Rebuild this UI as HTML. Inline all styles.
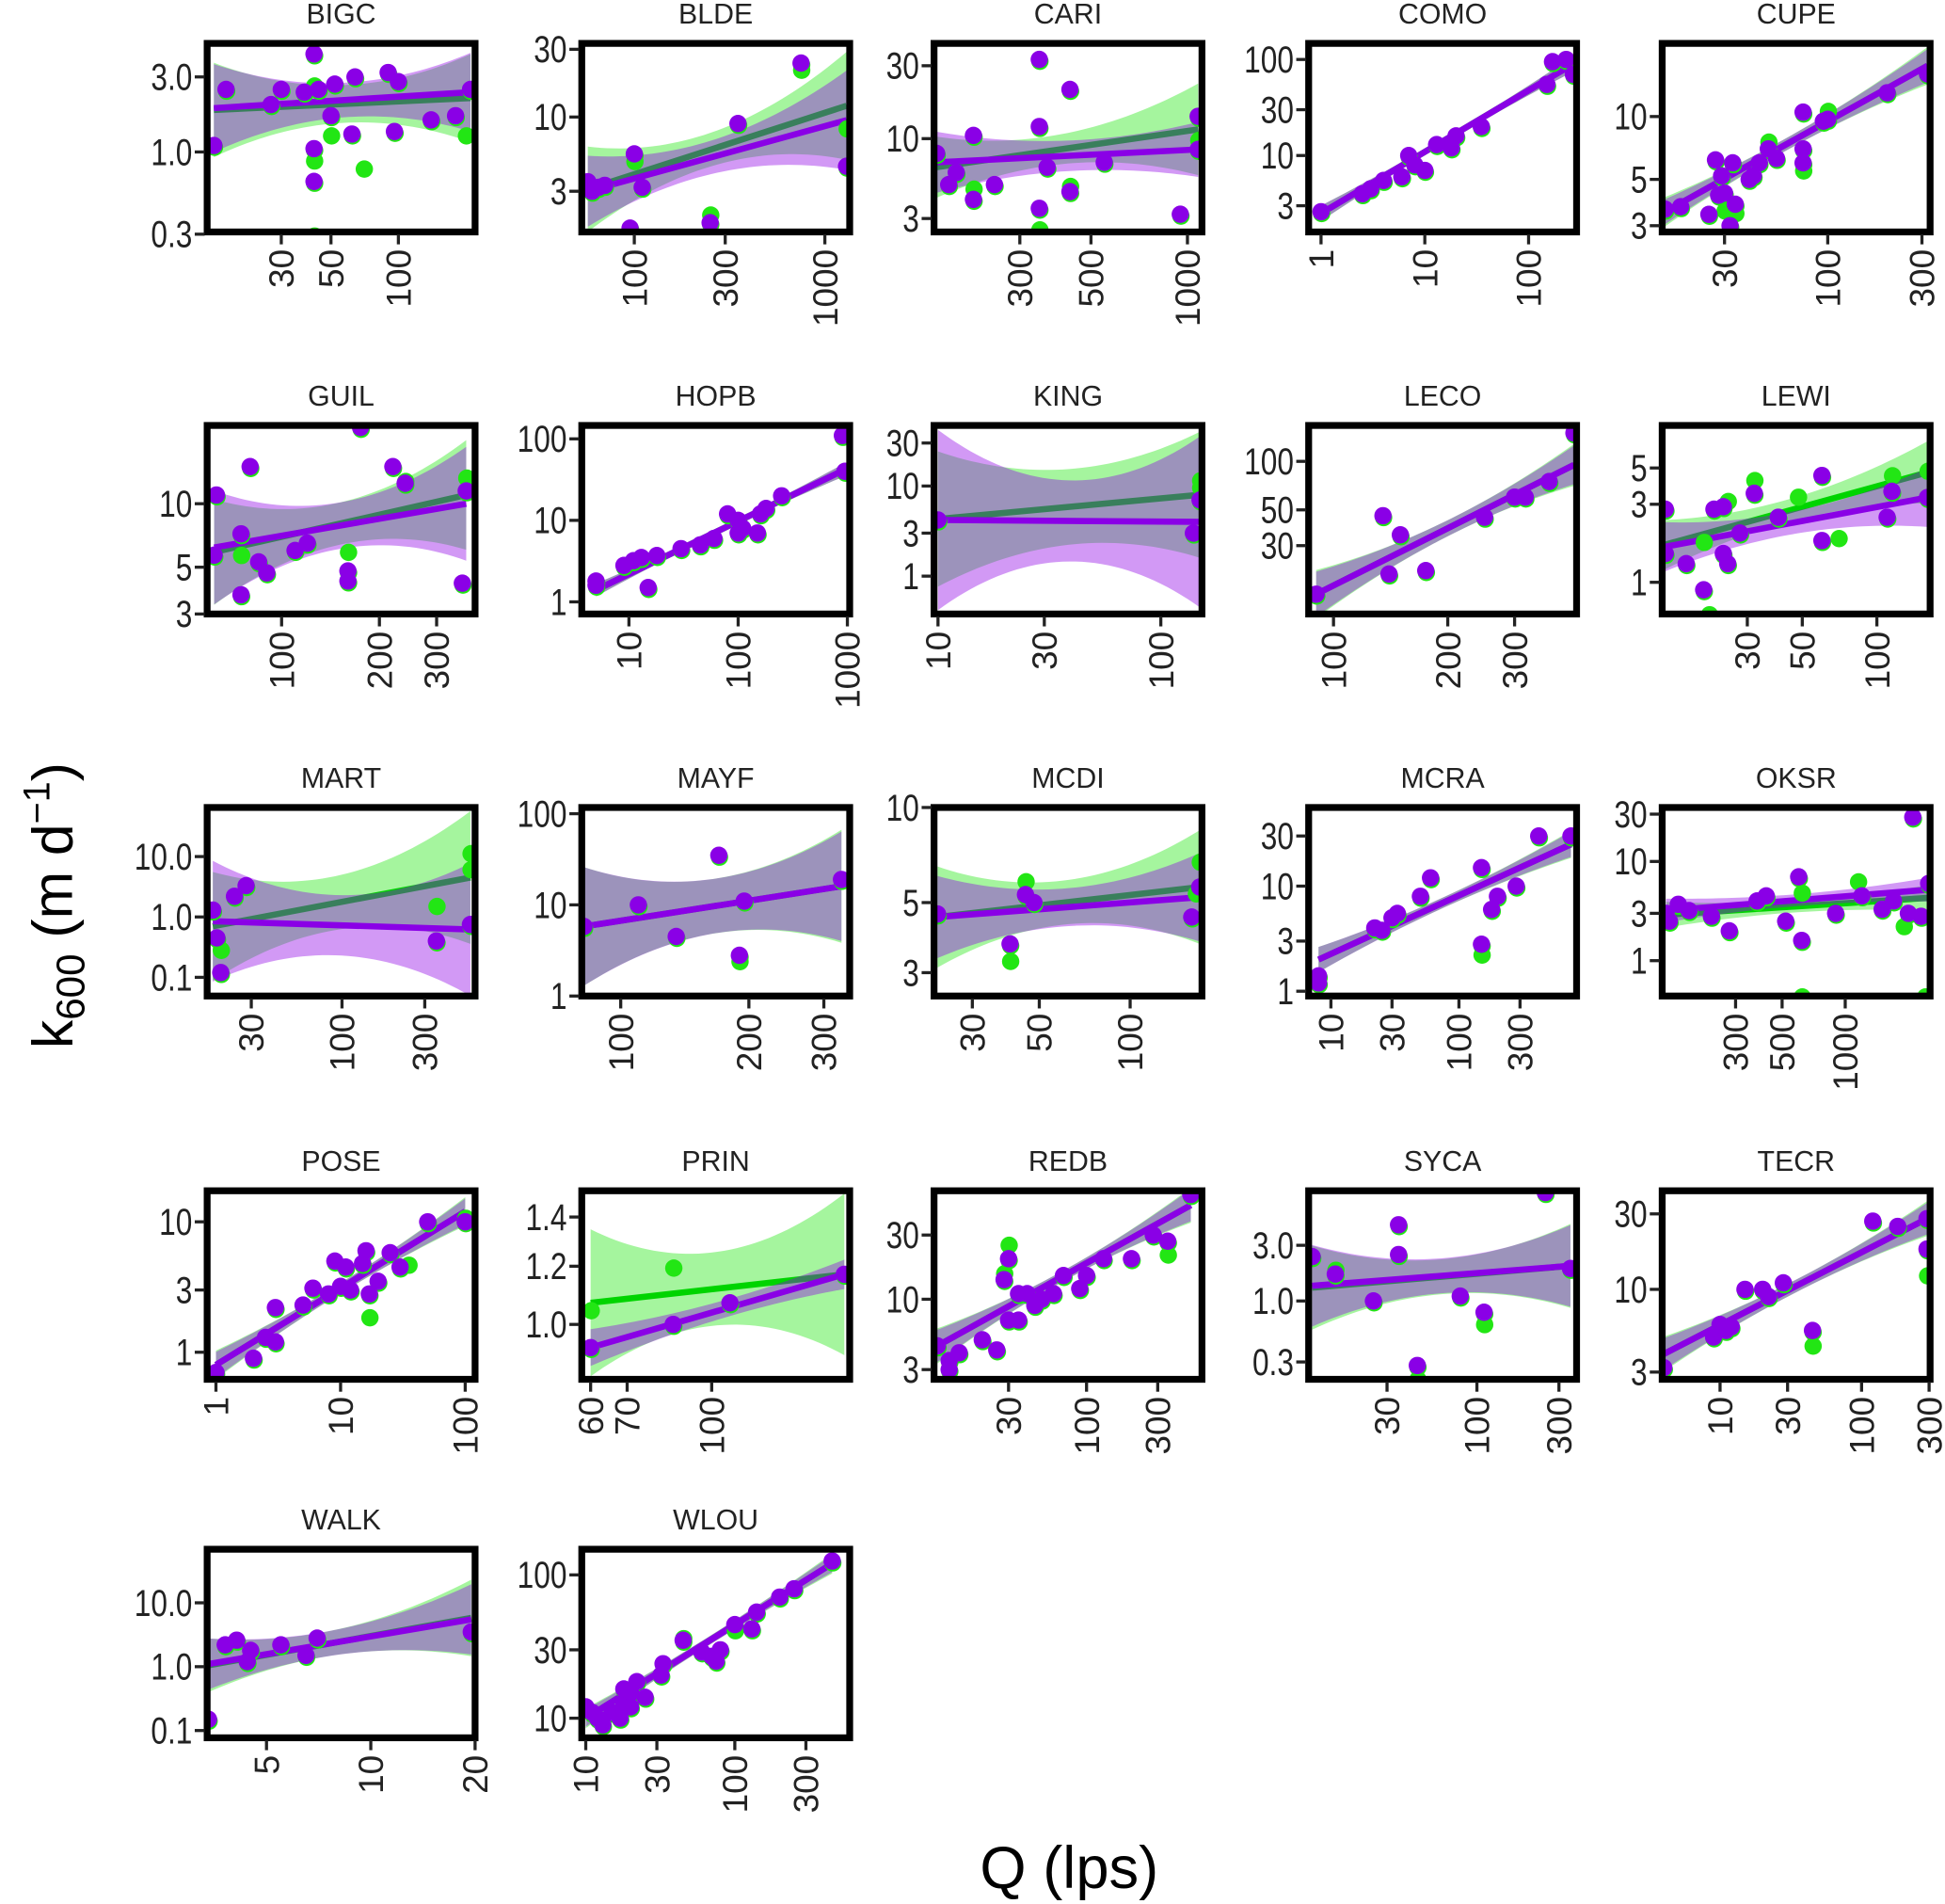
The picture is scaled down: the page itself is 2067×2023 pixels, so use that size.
<!DOCTYPE html>
<html><head><meta charset="utf-8">
<style>
html,body{margin:0;padding:0;background:#fff;}
svg{display:block;}
text{font-family:"Liberation Sans",Arial,sans-serif;fill:#222;}
</style></head>
<body>
<svg id="chart" width="2067" height="2023" viewBox="0 0 1568 1535" preserveAspectRatio="none" xmlns="http://www.w3.org/2000/svg">
<text transform="translate(58,730) rotate(-90)" text-anchor="middle" font-size="46" style="fill:#000">k<tspan font-size="32" dy="10">600</tspan><tspan dy="-10"> (m d</tspan><tspan font-size="30" dy="-18">−1</tspan><tspan dy="18">)</tspan></text>
<text x="862" y="1522" text-anchor="middle" font-size="48" style="fill:#000">Q (lps)</text>
<g id="panels"></g>
</svg>
<script>
const panelNames=["BIGC","BLDE","CARI","COMO","CUPE","GUIL","HOPB","KING","LECO","LEWI","MART","MAYF","MCDI","MCRA","OKSR","POSE","PRIN","REDB","SYCA","TECR","WALK","WLOU"];
const xDomains=[[14,220],[53,1350],[162,1110],[0.76,290],[14.5,330],[59,394],[3.7,1050],[9.6,153],[86,437],[13.6,164],[16.7,585],[81,345],[22.4,173],[6.7,830],[134,2540],[0.85,120],[57.8,179],[9.5,594],[10.5,380],[3.9,305],[3.37,20],[9.4,590]];
const yDomains=[[0.31,4.9],[1.55,33],[2.45,42],[1.6,147],[2.8,22.4],[3,23.5],[0.71,146],[0.38,47],[11.3,167],[0.64,9.1],[0.049,65],[1,117],[2.53,10],[0.9,56],[0.44,35],[0.62,17.3],[0.842,1.52],[2.54,64],[0.213,8.8],[2.7,42],[0.077,69],[7.3,151]];
const xTicks=[[30,50,100],[100,300,1000],[300,500,1000],[1,10,100],[30,100,300],[100,200,300],[10,100,1000],[10,30,100],[100,200,300],[30,50,100],[30,100,300],[100,200,300],[30,50,100],[10,30,100,300],[300,500,1000],[1,10,100],[60,70,100],[30,100,300],[30,100,300],[10,30,100,300],[5,10,20],[10,30,100,300]];
const yTicks=[[0.3,1,3],[3,10,30],[3,10,30],[3,10,30,100],[3,5,10],[3,5,10],[1,10,100],[1,3,10,30],[30,50,100],[1,3,5],[0.1,1,10],[1,10,100],[3,5,10],[1,3,10,30],[1,3,10,30],[1,3,10],[1.0,1.2,1.4],[3,10,30],[0.3,1,3],[3,10,30],[0.1,1,10],[10,30,100]];
const yTickLabels=[["0.3","1.0","3.0"],["3","10","30"],["3","10","30"],["3","10","30","100"],["3","5","10"],["3","5","10"],["1","10","100"],["1","3","10","30"],["30","50","100"],["1","3","5"],["0.1","1.0","10.0"],["1","10","100"],["3","5","10"],["1","3","10","30"],["1","3","10","30"],["1","3","10"],["1.0","1.2","1.4"],["3","10","30"],["0.3","1.0","3.0"],["3","10","30"],["0.1","1.0","10.0"],["10","30","100"]];
const purplePoints=[
[[15,1.1],[17,2.5],[27,2.0],[30,2.5],[38,2.4],[42,4.2],[42,1.05],[42,0.65],[44,2.5],[50,1.7],[52,2.7],[62,1.3],[64,3.0],[90,3.2],[96,1.35],[100,2.8],[140,1.6],[180,1.7],[210,2.5]],
[[57,3.5],[60,3.0],[65,3.2],[70,3.3],[95,1.65],[100,5.5],[110,3.2],[250,1.8],[350,9],[750,24],[1300,4.5]],
[[165,8],[180,5],[190,6],[215,10.5],[215,4],[250,5],[345,33],[345,12],[345,3.5],[365,6.5],[430,4.5],[430,21],[550,7],[950,3.2],[1080,14],[1080,8.5]],
[[1,2.6],[2.5,4],[3,4.5],[4,5.5],[6,6],[7,10],[8,8],[10,7],[13,13],[18,12],[20,16],[35,20],[150,55],[170,95],[230,100],[270,70]],
[[15,3.6],[18,3.7],[25,3.4],[27,6.2],[28,4.2],[29,5.2],[30,4.3],[32,3.0],[33,6],[34,3.8],[40,5],[42,5.2],[45,6],[50,7],[55,6.3],[75,10.5],[75,7],[75,6],[95,9.5],[100,9.7],[200,13],[320,16]],
[[62,5.7],[63,11],[75,7.2],[75,3.7],[80,15],[85,5.3],[90,4.7],[110,6],[120,6.5],[160,4.3],[160,4.8],[175,23],[220,15],[240,12.5],[360,4.2],[370,11.5]],
[[5,1.6],[5,1.8],[9,2.8],[11,3.2],[13,3.5],[15,1.5],[18,3.7],[30,4.5],[45,5],[60,6],[80,12],[100,10],[100,7],[110,8],[150,7],[160,12],[180,14],[250,20],[900,110],[950,40]],
[[10,4.2],[140,3],[150,7]],
[[90,15],[135,46],[140,20],[150,35],[175,21],[250,45],[300,60],[320,60],[370,75],[430,150]],
[[14,2.8],[14,1.5],[17,1.3],[20,0.9],[22,2.8],[24,2.9],[24,1.5],[25,1.3],[28,2.0],[32,3.5],[40,2.5],[60,4.5],[60,1.8],[110,2.5],[115,3.6],[160,3.3]],
[[18,1.3],[19,0.45],[20,0.12],[24,2.2],[28,3.3],[350,0.4],[550,0.75]],
[[82,5.8],[110,10],[135,4.5],[170,35],[190,2.8],[195,11],[330,19]],
[[23,4.6],[40,3.7],[45,5.3],[48,5],[160,4.5],[170,5.6]],
[[8,1.2],[8,1.4],[22,4],[25,3.8],[30,5],[33,5.5],[50,8],[60,12],[150,2.8],[150,15],[180,6],[200,8],[280,10],[420,30],[750,30]],
[[140,3],[145,2.5],[160,3.7],[180,3.2],[230,2.8],[280,2],[380,4],[420,4.5],[520,2.5],[600,7],[620,1.6],[900,3],[1200,4.5],[1500,3.3],[1700,4],[2000,3],[2100,28],[2300,2.8],[2500,6]],
[[1,0.7],[2,0.9],[2.5,1.3],[3,2.2],[3,1.2],[5,2.3],[6,3.1],[8,2.8],[9,5],[10,3.2],[11,4.5],[12,3],[15,4.8],[16,6],[17,2.8],[20,3.5],[25,5.8],[30,4.5],[50,10],[100,10]],
[[60,0.93],[85,1.0],[108,1.07],[175,1.17]],
[[10,4.5],[12,3],[12,3.5],[14,4],[20,5],[25,4.2],[28,14],[30,20],[30,7],[35,11],[35,7],[40,11],[45,9],[50,10],[60,11],[70,15],[90,12],[100,15],[130,20],[200,20],[280,30],[350,27],[500,60]],
[[11,2.4],[15,1.7],[25,1],[35,4.5],[35,2.5],[45,0.28],[80,1.1],[110,0.8],[250,8.5],[350,1.9]],
[[4,3.2],[9,5],[10,6],[11,5.5],[12,5.8],[15,10],[20,10],[22,9],[28,11],[45,5.5],[120,27],[180,25],[290,18],[290,28]],
[[3.4,0.15],[3.8,2.2],[4.1,2.6],[4.4,1.2],[4.5,1.8],[5.5,2.2],[6.5,1.5],[7,2.8],[19.5,3.5]],
[[10,12],[11,11],[12,10],[13,9],[15,11],[17,10],[18,13],[18,16],[20,15],[20,12],[22,18],[25,14],[32,20],[33,24],[45,35],[60,29],[70,27],[75,25],[80,30],[100,45],[130,42],[140,55],[200,70],[250,80],[450,125]]
];
const greenExtraPoints=[
[[42,0.3],[42,0.9],[70,0.8],[50,1.3],[200,1.3],[42,2.7]],
[[250,2.1],[1300,8.5],[100,5],[750,22]],
[[345,2.6],[430,5],[215,4.8],[1080,10]],
[],
[[30,3.6],[34,3.5],[50,7.7],[75,5.6],[100,10.8]],
[[75,5.8],[160,6],[240,13],[370,13.5]],
[],
[[150,10],[150,12]],
[],
[[21,0.65],[25,3.2],[32,4.3],[48,3.4],[70,1.9],[115,4.6],[160,4.9],[20,1.8]],
[[350,1.6],[550,6.5],[550,12],[20,0.3]],
[[190,2.5]],
[[40,3.3],[45,5.9],[165,5.4],[170,6.8]],
[[150,2.3]],
[[620,0.45],[2400,0.45],[1900,2.3],[1150,6.5],[620,5]],
[[17,1.9],[35,4.8],[100,11]],
[[60,1.05],[85,1.2]],
[[30,26],[350,22],[28,16]],
[[110,0.65],[45,0.22],[15,1.9]],
[[45,4.5],[290,12.5]],
[],
[[45,37],[100,42]]
];
const greenFits=[[1.85,2.2],[3.1,12],[6.5,11.5],[2.5,90],[3.5,17.5],[5.9,11],[1.4,42],[4.3,8],[15,95],[1.7,4.7],[0.7,4.5],[5.8,16],[4.5,5.6],[2,25],[2.9,4.3],[0.8,12],[1.07,1.17],[4.5,50],[1.3,2.0],[3.9,28],[1.05,5.8],[10,120]];
const purpleFits=[[1.9,2.4],[3.0,9.5],[7.0,8.5],[2.5,90],[3.5,17.5],[6.2,10],[1.4,42],[4.2,4.0],[15,95],[1.65,3.3],[0.85,0.62],[5.8,16],[4.5,5.2],[2,25],[3.2,5.2],[0.8,12],[0.93,1.17],[4.5,50],[1.35,2.0],[3.9,28],[1.1,5.5],[10,120]];
const greenBands=[[0.3,0.12,0.28],[0.3,0.12,0.38],[0.2,0.1,0.3],[0.08,0.03,0.08],[0.07,0.03,0.09],[0.25,0.1,0.26],[0.08,0.03,0.08],[0.75,0.42,0.7],[0.15,0.05,0.13],[0.15,0.07,0.19],[0.9,0.45,1.1],[0.65,0.3,0.62],[0.16,0.07,0.18],[0.12,0.05,0.13],[0.13,0.06,0.13],[0.11,0.04,0.11],[0.1,0.05,0.11],[0.13,0.04,0.13],[0.36,0.15,0.36],[0.11,0.04,0.11],[0.42,0.2,0.6],[0.07,0.03,0.07]];
const purpleBands=[[0.28,0.11,0.25],[0.25,0.12,0.35],[0.2,0.1,0.18],[0.08,0.03,0.08],[0.06,0.03,0.08],[0.27,0.11,0.27],[0.08,0.03,0.08],[1.0,0.45,0.95],[0.14,0.05,0.12],[0.15,0.07,0.18],[1.0,0.5,1.1],[0.65,0.3,0.6],[0.13,0.06,0.14],[0.12,0.05,0.12],[0.12,0.06,0.12],[0.1,0.04,0.1],[0.025,0.012,0.02],[0.12,0.04,0.12],[0.35,0.15,0.35],[0.1,0.04,0.1],[0.4,0.2,0.55],[0.06,0.03,0.06]];

const NS="http://www.w3.org/2000/svg";
const colLefts=[167,469,753,1055,1340];
const rowTops=[35,343,651,960,1249];
const PW=216, PH=152;
const root=document.getElementById('panels');
const L=Math.log10;
function mk(tag,attrs,parent){const e=document.createElementNS(NS,tag);for(const k in attrs)e.setAttribute(k,attrs[k]);parent.appendChild(e);return e;}

panelNames.forEach((name,i)=>{
  const x0=colLefts[i%5], y0=rowTops[Math.floor(i/5)];
  const xd=xDomains[i], yd=yDomains[i];
  const sx=v=>x0+(L(v)-L(xd[0]))/(L(xd[1])-L(xd[0]))*PW;
  const sy=v=>y0+PH-(L(v)-L(yd[0]))/(L(yd[1])-L(yd[0]))*PH;
  const g=mk('g',{},root);
  
  
  const cp=mk('clipPath',{id:'clip'+i},g);
  mk('rect',{x:x0,y:y0,width:PW,height:PH},cp);
  const t=mk('text',{x:x0+PW/2,y:y0-16,'text-anchor':'middle','font-size':23},g);
  t.textContent=name;
  
  
  const plot=mk('g',{'clip-path':'url(#clip'+i+')'},g);
  const pts=purplePoints[i];
  const xs=pts.map(p=>p[0]);
  const xmin=Math.min(...xs), xmax=Math.max(...xs);
  function band(fit,bw,fill,nm){
    const top=[],bot=[];
    for(let k=0;k<=40;k++){
      const u=k/40;
      const lx=L(xmin)+u*(L(xmax)-L(xmin));
      const ly=L(fit[0])+u*(L(fit[1])-L(fit[0]));
      const h=bw[0]*2*(u-0.5)*(u-1)+bw[1]*(-4)*u*(u-1)+bw[2]*2*u*(u-0.5);
      const px=sx(Math.pow(10,lx));
      top.push(px+','+sy(Math.pow(10,ly+h)));
      bot.unshift(px+','+sy(Math.pow(10,ly-h)));
    }
    const p=mk('polygon',{points:top.concat(bot).join(' '),fill:fill},plot);
    
    
  }
  function line(fit,col,nm){
    const l=mk('line',{x1:sx(xmin),y1:sy(fit[0]),x2:sx(xmax),y2:sy(fit[1]),stroke:col,'stroke-width':5},plot);
    
    
  }
  band(greenFits[i],greenBands[i],'rgba(40,230,25,0.42)','green-confidence-band');
  line(greenFits[i],'#00d400','green-fit-line');
  band(purpleFits[i],purpleBands[i],'rgba(143,0,230,0.4)','purple-confidence-band');
  line(purpleFits[i],'#8a00e6','purple-fit-line');
  pts.concat(greenExtraPoints[i]).forEach(p=>{
    const c=mk('circle',{cx:sx(p[0])+0.5,cy:sy(p[1])+1.5,r:7,fill:'#22e614'},plot);
    
    
  });
  pts.forEach(p=>{
    const c=mk('circle',{cx:sx(p[0]),cy:sy(p[1]),r:7,fill:'#8a00e6'},plot);
    
    
  });
  const fr=mk('rect',{x:x0,y:y0,width:PW,height:PH,fill:'none',stroke:'#000','stroke-width':5.5},g);
  
  
  yTicks[i].forEach((v,k)=>{
    const y=sy(v);
    mk('line',{x1:x0-10,y1:y,x2:x0-2,y2:y,stroke:'#222','stroke-width':2.5},g);
    const tx=mk('text',{'text-anchor':'end','font-size':30,transform:'translate('+(x0-12)+','+(y+10.5)+') scale(0.8,1)'},g);
    tx.textContent=yTickLabels[i][k];
    
    
  });
  xTicks[i].forEach(v=>{
    const x=sx(v);
    mk('line',{x1:x,y1:y0+PH+2,x2:x,y2:y0+PH+10,stroke:'#222','stroke-width':2.5},g);
    const tx=mk('text',{'text-anchor':'end','font-size':28,transform:'translate('+(x+10)+','+(y0+PH+14)+') rotate(-90)'},g);
    tx.textContent=String(v);
    
    
  });
});
</script>
</body></html>
